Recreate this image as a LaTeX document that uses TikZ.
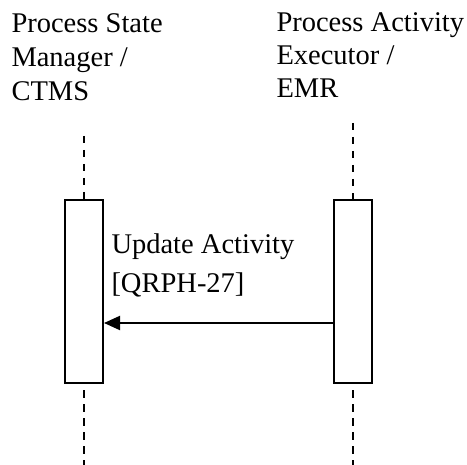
\documentclass[tikz,border=0pt]{standalone}
\usepackage{fontspec}
\setmainfont{Liberation Serif}
\usetikzlibrary{arrows.meta}
\begin{document}
\begin{tikzpicture}[x=1bp,y=-1bp,
  lbl/.style={anchor=base west,inner sep=0pt,outer sep=0pt,font=\fontsize{28.5bp}{34bp}\selectfont,align=left},
  actbox/.style={draw,line width=2bp,minimum width=38bp,minimum height=183bp,inner sep=0pt,fill=white},
  lifeline/.style={line width=2bp,dash pattern=on 7.5bp off 6.5bp},
  msg/.style={line width=2bp,-{Triangle[length=16bp,width=14bp]}}]
\useasboundingbox (0,0) rectangle (467,465);
% header labels
\node[lbl] (t1a) at (11.5,33) {Process State};
\node[lbl] (t1b) at (11.5,67) {Manager /};
\node[lbl] (t1c) at (11.5,101) {CTMS};
\node[lbl] (t2a) at (276.5,32) {Process Activity};
\node[lbl] (t2b) at (276.5,65) {Executor /};
\node[lbl] (t2c) at (276.5,98) {EMR};
% lifeline ends
\coordinate (ltop) at (84,136);
\coordinate (lbot) at (84,465);
\coordinate (rtop) at (353,123);
\coordinate (rbot) at (353,465);
% activation boxes
\node[actbox] (lbox) at (84,291.5) {};
\node[actbox] (rbox) at (353,291.5) {};
\draw[lifeline] (ltop) -- (lbox.north);
\draw[lifeline] ([yshift=-6bp]lbox.south) -- (lbot);
\draw[lifeline] (rtop) -- (rbox.north);
\draw[lifeline] ([yshift=-6bp]rbox.south) -- (rbot);
% message
\draw[msg] (rbox.west |- 0,323) -- (lbox.east |- 0,323);
\node[lbl] (m1) at (111.5,253) {Update Activity};
\node[lbl] (m2) at (111.5,292) {[QRPH-27]};
\end{tikzpicture}
\end{document}
